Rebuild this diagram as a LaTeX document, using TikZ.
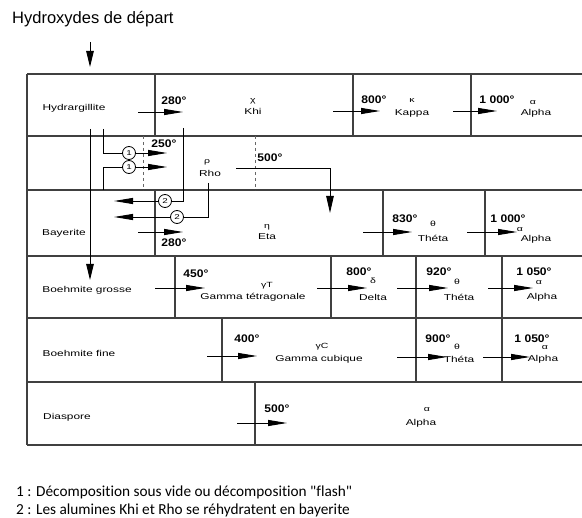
\documentclass[tikz,border=0pt]{standalone}
\usepackage{fontspec}
\usetikzlibrary{arrows.meta}
\newfontfamily\tabf[FakeStretch=1.4]{Liberation Sans}
\newfontfamily\numf[FakeStretch=1.1]{Liberation Sans}
\newfontfamily\titlef{Liberation Sans}
\newfontfamily\footf[Ligatures=NoCommon]{Carlito}
\begin{document}
\begin{tikzpicture}[x=1pt,y=-1pt,
  tline/.style={line width=1.3pt, draw=black!75},
  dline/.style={line width=0.8pt, draw=black!60, dash pattern=on 3pt off 3pt},
  lab/.style={font=\tabf\fontsize{8.5}{9}\selectfont, text=black, inner sep=0},
  num/.style={font=\numf\bfseries\fontsize{11}{12}\selectfont, text=black, inner sep=0},
  gr/.style={font=\tabf\fontsize{7.5}{8}\selectfont, text=black, inner sep=0},
  arr/.style={line width=0.9pt, -{Triangle[length=19pt,width=6pt]}},
  varr/.style={line width=0.9pt, -{Triangle[length=16pt,width=7.5pt]}},
  conn/.style={line width=0.9pt},
  circ/.style={circle, draw, line width=0.8pt, minimum size=13pt, inner sep=0,
     font=\tabf\fontsize{7}{7}\selectfont}
]
\useasboundingbox (0,0) rectangle (582,518);

% title
\node[anchor=base west, font=\titlef\fontsize{16.5}{18}\selectfont, inner sep=0] (title) at (12,24) {Hydroxydes de départ};
\coordinate (ta) at (90,42);
\coordinate (tb) at (90,67);
\draw[varr] (ta) -- (tb);

% table grid
\foreach \y in {74,136,190,256,318,382,445} \draw[tline] (27,\y) -- (582,\y);
\draw[tline] (27,74) -- (27,445);
\foreach \x in {155,353,471} \draw[tline] (\x,74) -- (\x,136);
\foreach \x in {155,383,485} \draw[tline] (\x,190) -- (\x,256);
\foreach \x in {175,331,416,502} \draw[tline] (\x,256) -- (\x,318);
\foreach \x in {222,416,502} \draw[tline] (\x,318) -- (\x,382);
\draw[tline] (255,382) -- (255,445);
\draw[dline] (143,136) -- (143,190);
\draw[dline] (255,136) -- (255,190);

% row 1
\node[lab] (hyd) at (74,108) {Hydrargillite};
\node[num] (t280a) at (174,101) {280°};
\node[gr] (chi) at (253,101) {χ};
\node[lab] (khi) at (253,111) {Khi};
\node[num] (t800a) at (374,100) {800°};
\node[gr] (kap) at (412,101) {κ};
\node[lab] (kappa) at (412,113) {Kappa};
\node[num] (t1000a) at (497,100) {1 000°};
\node[gr] (al1) at (533,103) {α};
\node[lab] (alpha1) at (536,113) {Alpha};
\coordinate (a1s) at (138,112); \coordinate (a1e) at (183,112);
\coordinate (a2s) at (333,111); \coordinate (a2e) at (380,111);
\coordinate (a3s) at (453,111); \coordinate (a3e) at (497,111);
\draw[arr] (a1s) -- (a1e);
\draw[arr] (a2s) -- (a2e);
\draw[arr] (a3s) -- (a3e);

% row 2
\node[num] (t250) at (164,144) {250°};
\node[gr] (rh) at (207,162) {ρ};
\node[lab] (rho) at (210,173) {Rho};
\node[num] (t500a) at (270,158) {500°};
\node[circ] (c1a) at (129,153) {1};
\node[circ] (c1b) at (129,167) {1};
\node[circ] (c2a) at (165,201) {2};
\node[circ] (c2b) at (177,217) {2};
\coordinate (p90) at (90,129); \coordinate (p90e) at (90,280);
\draw[varr] (p90) -- (p90e);
\coordinate (p103a) at (103,129); \coordinate (p103b) at (103,153);
\draw[conn] (p103a) -- (p103b) -- (c1a.west);
\coordinate (e1a) at (167,153);
\draw[arr] (c1a.east) -- (e1a);
\coordinate (p103c) at (103,190); \coordinate (p103d) at (103,167);
\draw[conn] (p103c) -- (p103d) -- (c1b.west);
\coordinate (e1b) at (167,167);
\draw[arr] (c1b.east) -- (e1b);
\coordinate (k1) at (183,128); \coordinate (k2) at (183,201);
\draw[conn] (k1) -- (k2) -- (c2a.east);
\coordinate (e2a) at (114,201);
\draw[arr] (c2a.west) -- (e2a);
\coordinate (r1) at (208,183); \coordinate (r2) at (208,217);
\draw[conn] (r1) -- (r2) -- (c2b.east);
\coordinate (e2b) at (114,217);
\draw[arr] (c2b.west) -- (e2b);
\coordinate (s1) at (236,168); \coordinate (s2) at (330,168); \coordinate (s3) at (330,213);
\draw[line width=0.9pt, -{Triangle[length=17pt,width=7.5pt]}] (s1) -- (s2) -- (s3);

% row 3
\node[lab] (bay) at (64,233) {Bayerite};
\node[num] (t280b) at (174,243) {280°};
\node[gr] (et) at (267,227) {η};
\node[lab] (eta) at (267,237) {Eta};
\node[num] (t830) at (405,219) {830°};
\node[gr] (th1) at (433,224) {θ};
\node[lab] (theta1) at (433,238) {Théta};
\node[num] (t1000b) at (508,219) {1 000°};
\node[gr] (al2) at (520,230) {α};
\node[lab] (alpha2) at (536,239) {Alpha};
\coordinate (b1s) at (138,232); \coordinate (b1e) at (183,232);
\coordinate (b2s) at (363,232); \coordinate (b2e) at (412,232);
\coordinate (b3s) at (467,232); \coordinate (b3e) at (517,232);
\draw[arr] (b1s) -- (b1e);
\draw[arr] (b2s) -- (b2e);
\draw[arr] (b3s) -- (b3e);

% row 4
\node[lab] (bg) at (87,290) {Boehmite grosse};
\node[num] (t450) at (196,274) {450°};
\node[gr] (gt) at (267,286) {γT};
\node[lab] (gtet) at (253,297) {Gamma tétragonale};
\node[num] (t800b) at (359,272) {800°};
\node[gr] (de) at (373,281) {δ};
\node[lab] (delta) at (373,297) {Delta};
\node[num] (t920) at (439,272) {920°};
\node[gr] (th2) at (457,282) {θ};
\node[lab] (theta2) at (459,297) {Théta};
\node[num] (t1050a) at (534,272) {1 050°};
\node[gr] (al3) at (539,283) {α};
\node[lab] (alpha3) at (542,297) {Alpha};
\coordinate (c1s) at (155,288); \coordinate (c1e) at (205,288);
\coordinate (c2s) at (317,288); \coordinate (c2e) at (367,288);
\coordinate (c3s) at (397,288); \coordinate (c3e) at (448,288);
\coordinate (c4s) at (488,288); \coordinate (c4e) at (533,288);
\draw[arr] (c1s) -- (c1e);
\draw[arr] (c2s) -- (c2e);
\draw[arr] (c3s) -- (c3e);
\draw[arr] (c4s) -- (c4e);

% row 5
\node[lab] (bf) at (79,353) {Boehmite fine};
\node[num] (t400) at (247,339) {400°};
\node[gr] (gc) at (322,347) {γC};
\node[lab] (gcub) at (319,359) {Gamma cubique};
\node[num] (t900) at (438,339) {900°};
\node[gr] (th3) at (457,347) {θ};
\node[lab] (theta3) at (459,359) {Théta};
\node[num] (t1050b) at (532,339) {1 050°};
\node[gr] (al4) at (545,348) {α};
\node[lab] (alpha4) at (543,359) {Alpha};
\coordinate (d1s) at (207,356); \coordinate (d1e) at (257,356);
\coordinate (d2s) at (397,357); \coordinate (d2e) at (447,357);
\coordinate (d3s) at (483,357); \coordinate (d3e) at (530,357);
\draw[arr] (d1s) -- (d1e);
\draw[arr] (d2s) -- (d2e);
\draw[arr] (d3s) -- (d3e);

% row 6
\node[lab] (dia) at (67,417) {Diaspore};
\node[num] (t500b) at (277,409) {500°};
\node[gr] (al5) at (427,410) {α};
\node[lab] (alpha5) at (421,423) {Alpha};
\coordinate (f1s) at (237,423); \coordinate (f1e) at (287,423);
\draw[arr] (f1s) -- (f1e);

% footer
\node[anchor=base west, font=\footf\fontsize{15.3}{18}\selectfont, inner sep=0] (foot1) at (16,497) {1 : Décomposition sous vide ou décomposition "flash"};
\node[anchor=base west, font=\footf\fontsize{15.3}{18}\selectfont, inner sep=0] (foot2) at (16,515) {2 : Les alumines Khi et Rho se réhydratent en bayerite};
\end{tikzpicture}
\end{document}
